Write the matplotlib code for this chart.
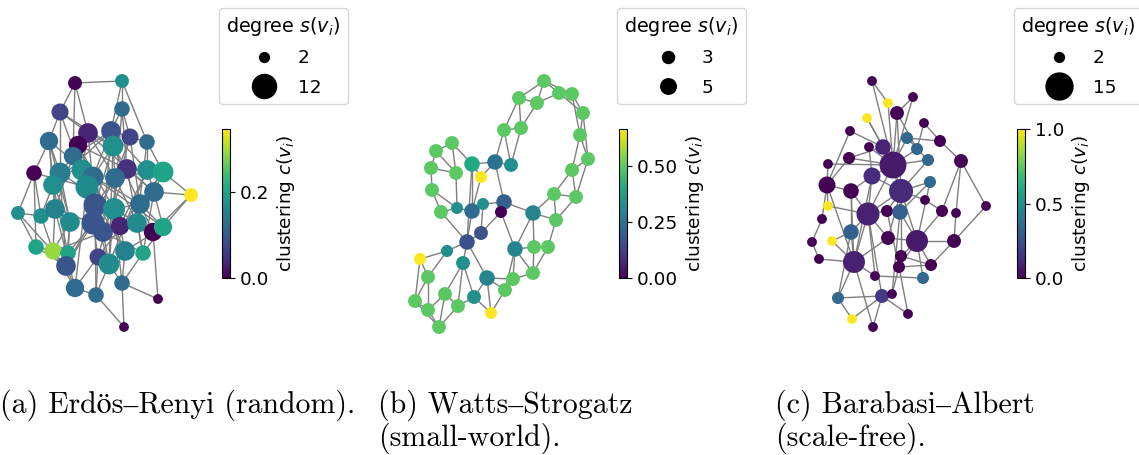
import numpy as np
import matplotlib
matplotlib.use("Agg")
import matplotlib.pyplot as plt
from matplotlib.collections import LineCollection
from matplotlib.colors import Normalize
from matplotlib.cm import ScalarMappable
from matplotlib.lines import Line2D

# ---------------------------------------------------------------------------
# Erdös–Renyi graph: node layout, degree, local clustering, edges (1-based)
# ---------------------------------------------------------------------------
er_x = [75, 122, 60, 122, 88, 111, 130, 147, 49, 78,
        113, 73, 34, 60, 82, 93, 127, 147, 163, 115,
        53, 87, 191, 154, 18, 41, 55, 95, 114, 140,
        70, 93, 103, 120, 137, 153, 163, 36, 53, 68,
        98, 109, 125, 143, 66, 75, 96, 122, 158, 124]
er_y = [23, 21, 52, 49, 73, 71, 77, 82, 81, 85,
        86, 96, 113, 113, 110, 117, 109, 110, 112, 118,
        125, 127, 135, 132, 153, 156, 149, 145, 149, 144,
        162, 163, 172, 166, 163, 172, 167, 187, 191, 193,
        197, 204, 191, 193, 206, 228, 235, 223, 239, 267]
er_degree = [4, 4, 6, 5, 8, 8, 6, 5, 7, 7,
             9, 7, 5, 9, 9, 9, 8, 8, 9, 8,
             8, 11, 4, 8, 4, 5, 8, 11, 10, 8,
             8, 11, 8, 7, 8, 7, 7, 5, 6, 5,
             6, 9, 8, 5, 8, 7, 5, 5, 2, 2]
er_clustering = [0.0, 0.17, 0.07, 0.12, 0.035, 0.09, 0.07, 0.12, 0.12, 0.0,
                 0.17, 0.12, 0.0, 0.145, 0.17, 0.12, 0.05, 0.17, 0.2, 0.12,
                 0.17, 0.165, 0.345, 0.12, 0.17, 0.17, 0.15, 0.09, 0.17, 0.12,
                 0.165, 0.09, 0.09, 0.035, 0.165, 0.0, 0.2, 0.2, 0.29, 0.2,
                 0.07, 0.165, 0.15, 0.2, 0.09, 0.12, 0.12, 0.12, 0.0, 0.0]
er_edges = [(1, 2), (1, 3), (1, 5), (1, 12), (2, 4), (2, 6), (2, 8),
            (3, 9), (3, 5), (3, 14), (3, 22), (3, 11),
            (4, 6), (4, 7), (4, 17), (4, 29),
            (5, 10), (5, 11), (5, 15), (5, 20), (5, 24), (5, 28),
            (6, 7), (6, 12), (6, 16), (6, 18), (6, 33), (6, 21),
            (7, 8), (7, 20), (7, 30), (7, 41), (8, 19), (8, 18), (8, 35),
            (9, 13), (9, 14), (9, 21), (9, 16), (9, 27), (9, 31),
            (10, 12), (10, 15), (10, 17), (10, 29), (10, 32), (10, 43),
            (11, 17), (11, 20), (11, 16), (11, 28), (11, 36), (11, 42),
            (12, 14), (12, 22), (12, 34), (12, 27),
            (13, 25), (13, 26), (13, 22), (13, 38),
            (14, 21), (14, 15), (14, 31), (14, 35), (14, 45),
            (15, 16), (15, 22), (15, 30), (15, 42),
            (16, 22), (16, 28), (16, 19), (16, 37),
            (17, 18), (17, 24), (17, 33), (17, 44),
            (18, 19), (18, 24), (18, 34), (18, 42),
            (19, 23), (19, 24), (19, 30), (19, 41),
            (20, 28), (20, 29), (20, 35), (20, 45),
            (21, 27), (21, 26), (21, 31), (21, 40),
            (22, 28), (22, 32), (22, 43), (22, 46),
            (23, 37), (23, 24), (23, 36), (24, 37), (24, 44),
            (25, 26), (25, 45), (25, 38), (26, 39),
            (27, 31), (27, 39), (27, 32), (27, 46),
            (28, 29), (28, 32), (28, 33), (28, 47),
            (29, 30), (29, 34), (29, 35), (29, 42), (29, 48),
            (30, 35), (30, 37),
            (31, 39), (31, 40), (31, 45),
            (32, 33), (32, 40), (32, 41), (32, 45), (32, 36),
            (33, 34), (33, 42), (33, 44), (34, 43), (34, 39),
            (35, 36), (35, 44), (36, 37), (36, 49), (37, 44), (37, 43),
            (38, 39), (38, 45), (39, 40), (39, 46), (40, 45),
            (41, 42), (41, 47), (41, 46), (42, 47), (42, 48), (42, 43),
            (43, 48), (44, 48), (45, 46), (46, 47), (47, 50), (48, 49), (48, 50)]

# ---------------------------------------------------------------------------
# Watts–Strogatz graph
# ---------------------------------------------------------------------------
ws_x = [144, 119, 137, 159, 172, 183, 180, 188, 172, 154,
        176, 104, 121, 52, 36, 31, 56, 72, 95, 111,
        81, 32, 41, 57, 72, 83, 104, 101, 133, 156,
        81, 67, 47, 20, 63, 115, 134, 148, 133, 28,
        87, 113, 105, 45, 15, 28, 58, 74, 91, 39]
ws_y = [21, 38, 43, 33, 34, 53, 75, 99, 110, 134,
        137, 70, 68, 83, 91, 108, 113, 104, 102, 105,
        117, 130, 152, 148, 151, 144, 142, 152, 153, 160,
        173, 182, 191, 199, 203, 189, 187, 187, 213, 217,
        218, 219, 230, 234, 241, 250, 246, 237, 253, 267]
ws_degree = [4, 4, 4, 4, 4, 4, 4, 4, 4, 4,
             4, 4, 4, 4, 4, 4, 4, 5, 5, 4,
             3, 4, 4, 3, 5, 3, 5, 3, 5, 4,
             4, 5, 3, 3, 4, 5, 4, 4, 4, 4,
             5, 4, 4, 4, 4, 4, 4, 4, 3, 4]
ws_clustering = [0.5, 0.5, 0.5, 0.5, 0.5, 0.5, 0.5, 0.5, 0.5, 0.5,
                 0.5, 0.5, 0.5, 0.5, 0.5, 0.5, 0.5, 0.4, 0.25, 0.333,
                 0.667, 0.5, 0.5, 0.333, 0.23, 0.333, 0.2, 0.0, 0.3, 0.5,
                 0.167, 0.167, 0.333, 0.667, 0.333, 0.3, 0.5, 0.5, 0.5, 0.5,
                 0.3, 0.5, 0.5, 0.5, 0.5, 0.5, 0.5, 0.333, 0.667, 0.5]
ws_edges = [(1, 2), (1, 3), (1, 4), (1, 5), (2, 3), (2, 12), (2, 13),
            (3, 4), (3, 13), (4, 5), (4, 6), (5, 6), (5, 7), (6, 7), (6, 8),
            (7, 8), (7, 9), (8, 9), (8, 11), (9, 10), (9, 11), (10, 11),
            (10, 29), (10, 30), (11, 30), (12, 13), (12, 19), (12, 20),
            (13, 20), (19, 20), (18, 19), (19, 21), (19, 27), (18, 21),
            (14, 18), (18, 25), (18, 32), (21, 25), (14, 15), (14, 17),
            (15, 16), (15, 17), (16, 17), (16, 22), (22, 23), (22, 24),
            (17, 24), (23, 24), (23, 32), (24, 25), (25, 26), (25, 32),
            (26, 27), (26, 31), (27, 28), (27, 29), (28, 31), (28, 36),
            (29, 30), (29, 36), (29, 37), (30, 38), (31, 32), (32, 33),
            (32, 35), (32, 41), (33, 34), (33, 40), (34, 40), (34, 45),
            (35, 44), (35, 47), (35, 48), (40, 45), (40, 46), (45, 46),
            (45, 50), (46, 50), (44, 46), (44, 50), (44, 47), (47, 50),
            (47, 48), (41, 48), (48, 49), (41, 49), (41, 42), (41, 43),
            (43, 49), (42, 43), (36, 43), (36, 42), (39, 42), (36, 37),
            (36, 39), (37, 39), (37, 38), (38, 39)]

# ---------------------------------------------------------------------------
# Barabasi–Albert graph
# ---------------------------------------------------------------------------
ba_x = [72, 113, 88, 97, 67, 124, 50, 107, 140, 69,
        83, 117, 28, 49, 93, 128, 161, 72, 130, 27,
        51, 101, 125, 28, 22, 68, 87, 100, 142, 156,
        186, 51, 32, 12, 88, 117, 154, 19, 54, 101,
        99, 131, 75, 123, 38, 82, 92, 108, 52, 73]
ba_y = [21, 37, 43, 53, 58, 63, 71, 78, 81, 87,
        87, 89, 104, 98, 105, 100, 101, 116, 122, 125,
        131, 131, 140, 146, 159, 154, 151, 152, 151, 153,
        146, 172, 181, 182, 178, 181, 181, 199, 202, 196,
        207, 205, 216, 218, 238, 236, 234, 254, 259, 267]
ba_degree = [2, 2, 2, 4, 2, 2, 2, 3, 3, 2,
             5, 3, 2, 3, 15, 3, 4, 6, 3, 6,
             5, 12, 2, 2, 2, 11, 3, 5, 3, 2,
             2, 5, 2, 2, 4, 10, 4, 2, 10, 3,
             3, 3, 2, 3, 3, 4, 2, 2, 2, 2]
ba_clustering = [0.0, 0.0, 1.0, 0.0, 1.0, 0.0, 0.0, 0.333, 0.0, 0.0,
                 0.1, 0.333, 0.0, 0.0, 0.07, 0.333, 0.0, 0.13, 0.333, 0.0,
                 0.0, 0.12, 0.0, 1.0, 0.0, 0.09, 0.0, 0.3, 0.0, 0.0,
                 0.0, 0.3, 1.0, 0.0, 0.0, 0.07, 0.0, 0.0, 0.09, 0.0,
                 0.0, 0.0, 0.0, 0.333, 0.333, 0.167, 0.0, 0.0, 1.0, 0.0]
ba_edges = [(1, 3), (1, 15), (2, 4), (2, 15), (3, 15), (4, 15), (4, 22),
            (4, 12), (5, 11), (5, 15), (6, 9), (6, 12), (7, 11), (7, 20),
            (8, 15), (8, 9), (8, 16), (9, 17), (10, 15), (10, 18),
            (11, 15), (11, 14), (11, 22), (12, 15), (13, 20), (13, 15),
            (14, 15), (14, 20), (15, 16), (15, 18), (15, 22), (15, 26),
            (16, 22), (17, 29), (17, 31), (17, 30), (18, 26), (18, 21),
            (18, 22), (18, 39), (19, 22), (19, 28), (19, 36), (20, 21),
            (20, 25), (20, 39), (21, 26), (21, 39), (21, 32), (22, 23),
            (22, 26), (22, 27), (22, 28), (22, 36), (22, 40), (22, 35),
            (23, 29), (24, 20), (24, 26), (25, 34), (26, 27), (26, 32),
            (26, 35), (26, 39), (26, 43), (26, 46), (27, 41), (28, 36),
            (28, 47), (29, 36), (30, 37), (31, 37), (32, 33), (32, 39),
            (32, 45), (33, 39), (34, 38), (35, 39), (35, 36), (36, 37),
            (36, 40), (36, 41), (36, 42), (36, 44), (37, 42), (38, 39),
            (39, 43), (39, 45), (40, 42), (41, 42), (41, 47), (43, 44),
            (45, 46), (45, 49), (46, 49), (46, 48), (46, 50), (48, 41),
            (50, 39)]

# Colour range and legend degrees for each panel
er_vmax, ws_vmax, ba_vmax = 0.345, 0.667, 1.0
er_cbar_ticks = [0.0, 0.2]
ws_cbar_ticks = [0.0, 0.25, 0.5]
ba_cbar_ticks = [0.0, 0.5, 1.0]
er_legend_degrees = [2, 12]
ws_legend_degrees = [3, 5]
ba_legend_degrees = [2, 15]

captions = [("(a) Erdös–Renyi (random).", ""),
            ("(b) Watts–Strogatz", "(small-world)."),
            ("(c) Barabasi–Albert", "(scale-free).")]

# ---------------------------------------------------------------------------
W, H = 1139, 455
fig = plt.figure(figsize=(W / 100, H / 100), dpi=100)
SIZE_PER_DEGREE = 25.0
FRAME_W, FRAME_H = 210, 290
FS = 13.3


def box(x0, y0, x1, y1):
    """Figure-fraction rectangle from pixel edges (origin top-left)."""
    return [x0 / W, 1 - y1 / H, (x1 - x0) / W, (y1 - y0) / H]


def draw_network(left, x, y, degree, clustering, edges, vmax):
    ax = fig.add_axes(box(left, 60, left + FRAME_W, 60 + FRAME_H))
    segs = [[(x[i - 1], y[i - 1]), (x[j - 1], y[j - 1])] for i, j in edges]
    ax.add_collection(LineCollection(segs, colors="#7f7f7f", linewidths=1.0, zorder=1))
    ax.scatter(x, y, s=SIZE_PER_DEGREE * np.asarray(degree), c=clustering,
               cmap="viridis", vmin=0, vmax=vmax, linewidths=0, zorder=2)
    ax.set_xlim(0, FRAME_W)
    ax.set_ylim(FRAME_H, 0)
    ax.axis("off")


def add_legend(left, degrees):
    handles = [Line2D([], [], marker="o", color="black", linestyle="none",
                      markersize=np.sqrt(SIZE_PER_DEGREE * d)) for d in degrees]
    fig.legend(handles, [str(d) for d in degrees], title="degree $s(v_i)$",
               loc="upper left", bbox_to_anchor=(left / W, 1 - 8 / H),
               borderaxespad=0, fontsize=FS, title_fontsize=13.8,
               labelspacing=0.6)


def add_colorbar(left, vmax, ticks):
    cax = fig.add_axes(box(left, 129, left + 8, 278))
    sm = ScalarMappable(norm=Normalize(0, vmax), cmap="viridis")
    cb = fig.colorbar(sm, cax=cax, ticks=ticks)
    cb.set_label("clustering $c(v_i)$", fontsize=FS)
    cb.ax.tick_params(labelsize=FS)


draw_network(0, er_x, er_y, er_degree, er_clustering, er_edges, er_vmax)
draw_network(400, ws_x, ws_y, ws_degree, ws_clustering, ws_edges, ws_vmax)
draw_network(800, ba_x, ba_y, ba_degree, ba_clustering, ba_edges, ba_vmax)

add_legend(219, er_legend_degrees)
add_legend(617, ws_legend_degrees)
add_legend(1014, ba_legend_degrees)

add_colorbar(222, er_vmax, er_cbar_ticks)
add_colorbar(619, ws_vmax, ws_cbar_ticks)
add_colorbar(1017, ba_vmax, ba_cbar_ticks)

caption_font = dict(fontsize=21.5, family=["cmr10", "STIXGeneral", "DejaVu Serif"],
                    va="baseline")
for left, (line1, line2) in zip([0, 378, 775], captions):
    fig.text(left / W, 1 - 413 / H, line1, **caption_font)
    if line2:
        fig.text(left / W, 1 - 446 / H, line2, **caption_font)

fig.savefig("out.png", dpi=100)
